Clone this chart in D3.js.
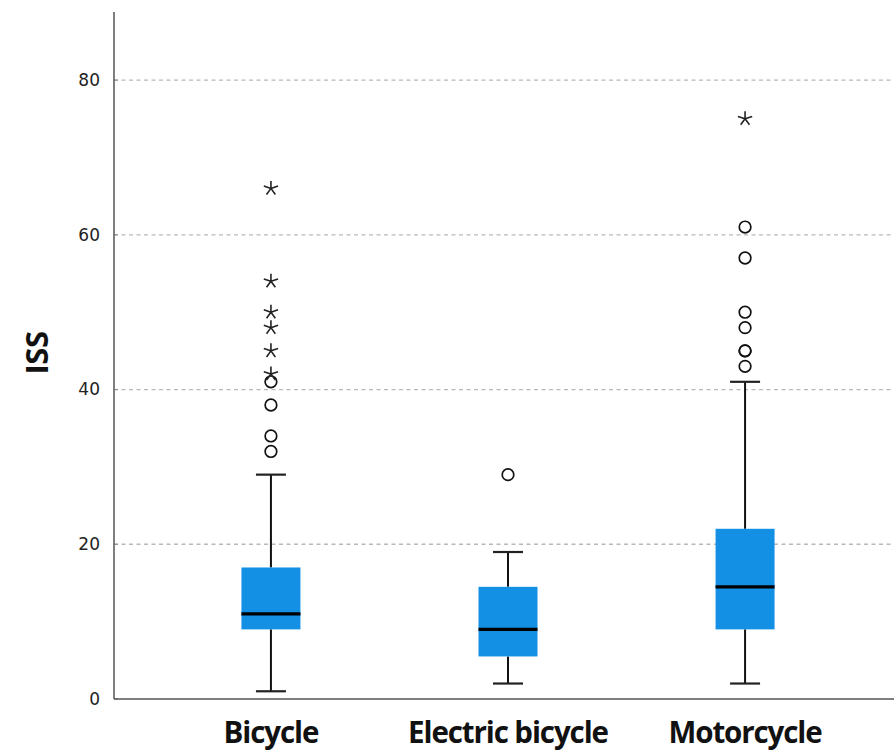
<!DOCTYPE html>
<html>
<head>
<meta charset="utf-8">
<script src="https://cdn.jsdelivr.net/npm/d3@7/dist/d3.min.js"></script>
<style>
  html, body { margin: 0; padding: 0; background: #fff; }
  svg { display: block; }
</style>
</head>
<body>
<svg id="chart" width="894" height="751"></svg>
<script>
// ISS distribution by vehicle type
const categories = ["Bicycle", "Electric bicycle", "Motorcycle"];
const whiskerLow  = [1, 2, 2];
const q1          = [9, 5.5, 9];
const medians     = [11, 9, 14.5];
const q3          = [17, 14.5, 22];
const whiskerHigh = [29, 19, 41];
// mild outliers (circles) and extreme outliers (asterisks)
const circleOutliers = [
  [32, 34, 38, 41],
  [29],
  [43, 45, 45, 48, 50, 57, 61]
];
const starOutliers = [
  [42, 45, 48, 50, 54, 66],
  [],
  [75]
];
const yTicks = [0, 20, 40, 60, 80];

const svg = d3.select("#chart");
const plotLeft = 114, plotRight = 894, plotTop = 12, plotBottom = 699;

const y = d3.scaleLinear().domain([0, 88.8]).range([plotBottom, plotTop]);
const x = d3.scalePoint().domain(categories).range([plotLeft, 902]).padding(0.662);

const boxHalf = 29.5, capHalf = 15;
const boxColor = "#138fe4";

// gridlines
svg.append("g").selectAll("line")
  .data(yTicks.filter(d => d > 0))
  .join("line")
  .attr("x1", plotLeft).attr("x2", plotRight)
  .attr("y1", d => y(d)).attr("y2", d => y(d))
  .attr("stroke", "#b8b8b8").attr("stroke-width", 1.3)
  .attr("stroke-dasharray", "4,3.5");

// y axis tick labels
const yAxis = d3.axisLeft(y).tickValues(yTicks).tickSize(0).tickPadding(14);
const yg = svg.append("g").attr("transform", `translate(${plotLeft},0)`).call(yAxis);
yg.select(".domain").remove();
yg.selectAll("text")
  .attr("font-family", "DejaVu Sans, sans-serif")
  .attr("font-size", 17).attr("fill", "#222");

// short inward tick marks
svg.append("g").selectAll("line")
  .data(yTicks).join("line")
  .attr("x1", plotLeft).attr("x2", plotLeft + 4)
  .attr("y1", d => y(d)).attr("y2", d => y(d))
  .attr("stroke", "#888").attr("stroke-width", 1);

// axis lines
svg.append("line").attr("x1", plotLeft).attr("x2", plotLeft).attr("y1", plotTop).attr("y2", plotBottom)
  .attr("stroke", "#555").attr("stroke-width", 1.5);
svg.append("line").attr("x1", plotLeft).attr("x2", plotRight).attr("y1", plotBottom).attr("y2", plotBottom)
  .attr("stroke", "#555").attr("stroke-width", 1.5);

// y axis title
svg.append("text")
  .attr("transform", `translate(48,353) rotate(-90)`)
  .attr("text-anchor", "middle")
  .attr("font-family", "Open Sans, sans-serif")
  .attr("font-weight", "bold").attr("font-size", 31)
  .attr("letter-spacing", -0.5)
  .attr("fill", "#111")
  .text("ISS");

// x category labels
svg.append("g").selectAll("text")
  .data(categories).join("text")
  .attr("x", d => x(d)).attr("y", 743)
  .attr("text-anchor", "middle")
  .attr("font-family", "Open Sans, sans-serif")
  .attr("font-weight", "bold").attr("font-size", 29.5)
  .attr("letter-spacing", -1.1)
  .attr("fill", "#111")
  .text(d => d);

// boxes
const boxes = svg.append("g").selectAll("g")
  .data(categories.map((c, i) => ({c, i})))
  .join("g");

boxes.append("line")
  .attr("x1", d => x(d.c)).attr("x2", d => x(d.c))
  .attr("y1", d => y(whiskerLow[d.i])).attr("y2", d => y(q1[d.i]))
  .attr("stroke", "#111").attr("stroke-width", 2);
boxes.append("line")
  .attr("x1", d => x(d.c)).attr("x2", d => x(d.c))
  .attr("y1", d => y(q3[d.i])).attr("y2", d => y(whiskerHigh[d.i]))
  .attr("stroke", "#111").attr("stroke-width", 2);
boxes.append("line")
  .attr("x1", d => x(d.c) - capHalf).attr("x2", d => x(d.c) + capHalf)
  .attr("y1", d => y(whiskerLow[d.i])).attr("y2", d => y(whiskerLow[d.i]))
  .attr("stroke", "#222").attr("stroke-width", 2.2);
boxes.append("line")
  .attr("x1", d => x(d.c) - capHalf).attr("x2", d => x(d.c) + capHalf)
  .attr("y1", d => y(whiskerHigh[d.i])).attr("y2", d => y(whiskerHigh[d.i]))
  .attr("stroke", "#222").attr("stroke-width", 2.2);
boxes.append("rect")
  .attr("x", d => x(d.c) - boxHalf).attr("width", boxHalf * 2)
  .attr("y", d => y(q3[d.i])).attr("height", d => y(q1[d.i]) - y(q3[d.i]))
  .attr("fill", boxColor);
boxes.append("line")
  .attr("x1", d => x(d.c) - boxHalf).attr("x2", d => x(d.c) + boxHalf)
  .attr("y1", d => y(medians[d.i])).attr("y2", d => y(medians[d.i]))
  .attr("stroke", "#000").attr("stroke-width", 3.2);

// circle outliers
const circ = [];
circleOutliers.forEach((arr, i) => arr.forEach(v => circ.push({c: categories[i], v})));
svg.append("g").selectAll("circle")
  .data(circ).join("circle")
  .attr("cx", d => x(d.c)).attr("cy", d => y(d.v)).attr("r", 5.8)
  .attr("fill", "none").attr("stroke", "#111").attr("stroke-width", 1.7);

// asterisk outliers
const stars = [];
starOutliers.forEach((arr, i) => arr.forEach(v => stars.push({c: categories[i], v})));
function asteriskPath(r) {
  let p = "";
  for (let k = 0; k < 5; k++) {
    const a = -Math.PI / 2 + k * 2 * Math.PI / 5;
    p += `M0,0L${(r * Math.cos(a)).toFixed(2)},${(r * Math.sin(a)).toFixed(2)}`;
  }
  return p;
}
svg.append("g").selectAll("path")
  .data(stars).join("path")
  .attr("transform", d => `translate(${x(d.c)},${y(d.v)})`)
  .attr("d", asteriskPath(7.5))
  .attr("fill", "none").attr("stroke", "#222").attr("stroke-width", 1.6);
</script>
</body>
</html>
